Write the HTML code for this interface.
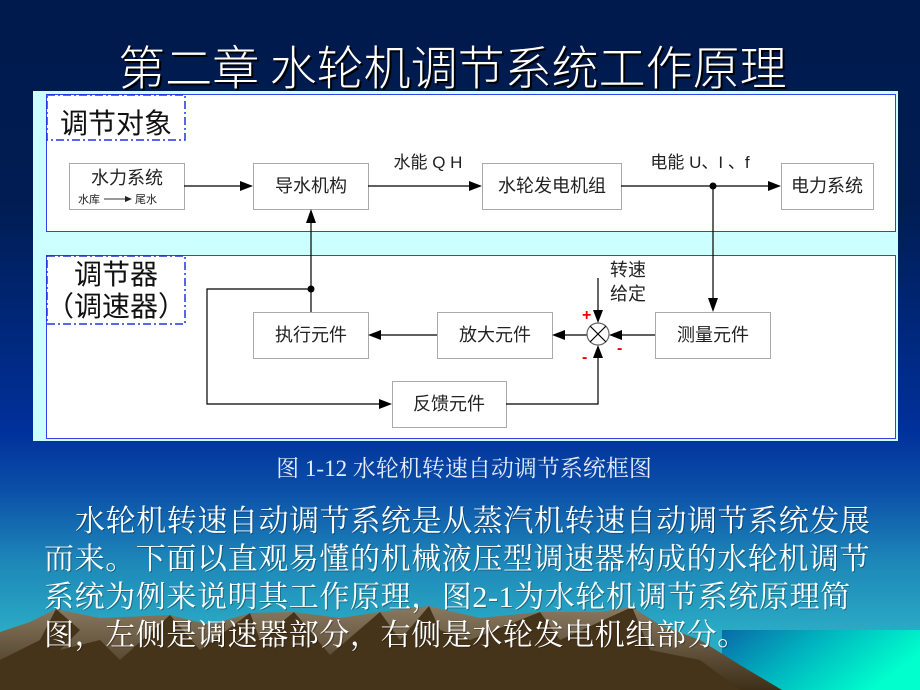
<!DOCTYPE html>
<html><head><meta charset="utf-8"><style>
html,body{margin:0;padding:0}
body{width:920px;height:690px;position:relative;overflow:hidden;font-family:"Liberation Serif","Noto Serif CJK SC","Noto Sans CJK SC",serif;
background:linear-gradient(to bottom,#001a4d 0px,#001c52 200px,#00309a 430px,#0b4fa8 490px,#1d86b8 560px,#2aaac4 630px,#2ab0c6 690px);}
.t{position:absolute;color:#fff;white-space:nowrap}
.title{left:0;width:905px;text-align:center;top:30px;font-size:47px;text-shadow:2px 2px 0 #000;font-family:"Noto Sans CJK SC",sans-serif;font-weight:300;letter-spacing:0px}
.p{font-size:30px;letter-spacing:0.6px;font-family:"Liberation Serif","Noto Serif CJK SC",serif;text-shadow:1px 1px 0 rgba(0,0,0,.3)}
</style></head><body>
<svg width="920" height="690" style="position:absolute;left:0;top:0">
<defs>
<linearGradient id="sea" x1="0" y1="0" x2="1" y2="0.4"><stop offset="0" stop-color="#0a6aa8"/><stop offset="0.5" stop-color="#00b8c0"/><stop offset="1" stop-color="#00ffcc"/></linearGradient>
<linearGradient id="mt" x1="0" y1="0" x2="0" y2="1"><stop offset="0" stop-color="#8a7a62"/><stop offset="1" stop-color="#3e2f18"/></linearGradient>
</defs>
<rect x="722" y="630" width="198" height="60" fill="url(#sea)"/>
<polygon fill="url(#mt)" points="0,632 30,622 56,609 100,618 170,615 210,625 250,613 294,612 340,618 380,612 429,606 480,618 540,612 600,612 632,607 660,625 700,640 740,665 782,690 0,690"/>
<polygon fill="#45331a" points="56,609 80,630 60,650 100,640 120,660 170,615 200,650 250,613 260,640 294,612 330,655 380,612 400,640 429,606 440,630 470,640 540,612 560,640 632,607 650,650 700,660 740,690 0,690 0,660 40,640"/>
<rect x="33" y="91" width="865" height="350" fill="#ccffff"/>
<rect x="46.5" y="94.5" width="849" height="137" fill="#fff" stroke="#3344ee" stroke-width="1"/>
<rect x="46.5" y="255.5" width="849" height="183" fill="#fff" stroke="#3344ee" stroke-width="1"/>
<rect x="47" y="95" width="138" height="45" fill="none" stroke="#2233dd" stroke-width="1.5" stroke-dasharray="8,3,2,3"/>
<rect x="47" y="256" width="138" height="68" fill="none" stroke="#2233dd" stroke-width="1.5" stroke-dasharray="8,3,2,3"/>
<g fill="#fff" stroke="#aaa" stroke-width="1">
<rect x="69.5" y="163.5" width="115" height="46"/>
<rect x="253.5" y="163.5" width="115" height="46"/>
<rect x="482.5" y="163.5" width="139" height="46"/>
<rect x="781.5" y="163.5" width="92" height="46"/>
<rect x="253.5" y="312.5" width="115" height="46"/>
<rect x="437.5" y="312.5" width="115" height="46"/>
<rect x="655.5" y="312.5" width="115" height="46"/>
<rect x="392.5" y="381.5" width="114" height="46"/>
</g>
<g stroke="#000" stroke-width="1.2" fill="none">
<path d="M184,186H240"/><path d="M368,186H470"/><path d="M621,186H768"/>
<path d="M713,186V298"/>
<path d="M311,312V222"/>
<path d="M311,289H207V404H380"/>
<path d="M655,335H621"/><path d="M587,335H565"/>
<path d="M437,335H381"/>
<path d="M598,278V312"/>
<path d="M506,404H598V358"/>
<circle cx="598" cy="334" r="11" stroke="#666"/>
<path d="M590,326L606,342M606,326L590,342"/>
</g>
<g fill="#000">
<polygon points="253,186 240,181 240,191"/>
<polygon points="482,186 469,181 469,191"/>
<polygon points="781,186 768,181 768,191"/>
<polygon points="713,312 708,298 718,298"/>
<polygon points="311,209 306,223 316,223"/>
<polygon points="392,404 379,399 379,409"/>
<polygon points="609,335 622,330 622,340"/>
<polygon points="552,335 565,330 565,340"/>
<polygon points="368,335 381,330 381,340"/>
<polygon points="598,323 593,310 603,310"/>
<polygon points="598,345 593,358 603,358"/>
<circle cx="713" cy="186" r="3.5"/><circle cx="311" cy="289" r="3.5"/>
</g>
<g font-family="Liberation Sans,Noto Sans CJK SC,sans-serif" fill="#222" font-size="18" text-anchor="middle">
<text x="127" y="184">水力系统</text>
<text x="311" y="192">导水机构</text>
<text x="552" y="192">水轮发电机组</text>
<text x="827" y="192">电力系统</text>
<text x="311" y="341">执行元件</text>
<text x="495" y="341">放大元件</text>
<text x="713" y="341">测量元件</text>
<text x="449" y="410">反馈元件</text>
<text x="628" y="276">转速</text>
<text x="628" y="300">给定</text>
<text x="428" y="168" font-size="17">水能 Q H</text>
<text x="700" y="168" font-size="17">电能 U、I 、f</text>
<text x="89" y="203" font-size="11">水库</text><text x="146" y="203" font-size="11">尾水</text>
<text x="116" y="133" font-size="28" fill="#111">调节对象</text>
<text x="116" y="284" font-size="28" fill="#111">调节器</text>
<text x="116" y="316" font-size="28" fill="#111">（调速器）</text>
</g>
<path d="M104,199H125" stroke="#333" stroke-width="1"/><polygon points="132,199 125,196 125,202" fill="#222"/>
<g fill="#e00" font-family="Liberation Sans,sans-serif" font-size="16" font-weight="bold">
<text x="582" y="320">+</text><text x="617" y="353">-</text><text x="582" y="362">-</text>
</g>
</svg>
<div class="t title">第二章 水轮机调节系统工作原理</div>
<div class="t" style="left:0;width:928px;text-align:center;top:450px;font-size:23px;color:#e8eeff">图 1-12 水轮机转速自动调节系统框图</div>
<div class="t p" style="left:75px;top:496px">水轮机转速自动调节系统是从蒸汽机转速自动调节系统发展</div>
<div class="t p" style="left:44px;top:534px">而来。下面以直观易懂的机械液压型调速器构成的水轮机调节</div>
<div class="t p" style="left:44px;top:572px">系统为例来说明其工作原理，图2-1为水轮机调节系统原理简</div>
<div class="t p" style="left:44px;top:610px">图，左侧是调速器部分，右侧是水轮发电机组部分。</div>
</body></html>
